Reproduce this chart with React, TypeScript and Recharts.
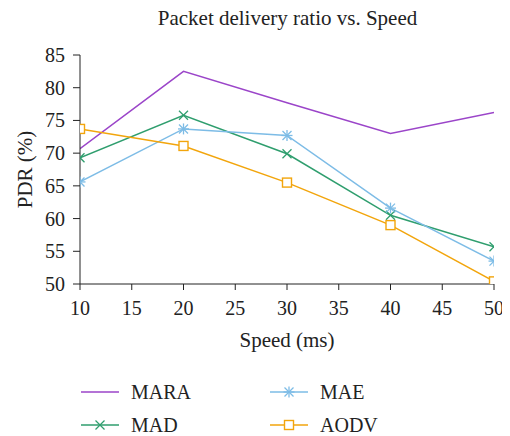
import React from "react";
import { LineChart, Line, XAxis, YAxis, Legend } from "recharts";

const speeds = [10, 20, 30, 40, 50];
const mara = [70.7, 82.5, 77.7, 73.0, 76.2];
const mad = [69.3, 75.8, 69.9, 60.5, 55.7];
const mae = [65.6, 73.7, 72.7, 61.6, 53.5];
const aodv = [73.7, 71.1, 65.5, 59.0, 50.4];
const xTicks = [10, 15, 20, 25, 30, 35, 40, 45, 50];
const yTicks = [50, 55, 60, 65, 70, 75, 80, 85];

const data = speeds.map((s, i) => ({ speed: s, MARA: mara[i], MAD: mad[i], MAE: mae[i], AODV: aodv[i] }));

const FONT = "'Liberation Serif', 'Times New Roman', serif";
const TXT = { fontFamily: FONT };
const C_MARA = "#9b45c9";
const C_MAD = "#2f9e6e";
const C_MAE = "#7dbce6";
const C_AODV = "#f2a50c";

const CrossDot = (props: any) => {
  const { cx, cy, stroke } = props;
  if (cx == null || cy == null) return null;
  const r = 4.5;
  return (
    <g stroke={stroke} strokeWidth={1.3} fill="none">
      <line x1={cx - r} y1={cy - r} x2={cx + r} y2={cy + r} />
      <line x1={cx - r} y1={cy + r} x2={cx + r} y2={cy - r} />
    </g>
  );
};

const StarDot = (props: any) => {
  const { cx, cy, stroke } = props;
  if (cx == null || cy == null) return null;
  const r = 4.5;
  return (
    <g stroke={stroke} strokeWidth={1.3} fill="none">
      <line x1={cx - r} y1={cy - r} x2={cx + r} y2={cy + r} />
      <line x1={cx - r} y1={cy + r} x2={cx + r} y2={cy - r} />
      <line x1={cx} y1={cy - r - 1} x2={cx} y2={cy + r + 1} />
      <line x1={cx - r - 1} y1={cy} x2={cx + r + 1} y2={cy} />
    </g>
  );
};

const SquareDot = (props: any) => {
  const { cx, cy, stroke } = props;
  if (cx == null || cy == null) return null;
  const r = 4.5;
  return <rect x={cx - r} y={cy - r} width={2 * r} height={2 * r} stroke={stroke} strokeWidth={1.4} fill="#fff" />;
};

const XTick = (props: any) => {
  const { x, y, payload } = props;
  return (
    <text x={x} y={y} dy="0.75em" textAnchor="middle" style={TXT} fontSize={20} fill="#222">
      {payload.value}
    </text>
  );
};

const YTick = (props: any) => {
  const { x, y, payload } = props;
  return (
    <text x={x} y={y} dy="0.35em" textAnchor="end" style={TXT} fontSize={20} fill="#222">
      {payload.value}
    </text>
  );
};

const legendItems = [
  { name: "MARA", color: C_MARA, marker: null as any },
  { name: "MAE", color: C_MAE, marker: StarDot },
  { name: "MAD", color: C_MAD, marker: CrossDot },
  { name: "AODV", color: C_AODV, marker: SquareDot },
];

const renderLegend = () => (
  <svg width={400} height={70} style={{ display: "block", fontFamily: FONT }}>
    {legendItems.map((it, i) => {
      const col = i % 2;
      const row = Math.floor(i / 2);
      const x0 = col * 189;
      const y0 = 26 + row * 33;
      const M = it.marker;
      return (
        <g key={it.name}>
          <line x1={x0} y1={y0} x2={x0 + 38} y2={y0} stroke={it.color} strokeWidth={1.5} />
          {M ? <M cx={x0 + 19} cy={y0} stroke={it.color} /> : null}
          <text x={x0 + 50} y={y0} dy="0.35em" style={TXT} fontSize={20} fill="#222">
            {it.name}
          </text>
        </g>
      );
    })}
  </svg>
);

export default function App() {
  return (
    <div style={{ position: "relative", width: 502, height: 428, fontFamily: FONT }}>
      <style>{"html,body{overflow:hidden;}"}</style>
      <div
        style={{
          position: "absolute",
          left: 0,
          width: 502,
          top: 0,
          textAlign: "center",
          fontFamily: FONT,
          fontSize: 21,
          color: "#222",
          lineHeight: "21px",
          paddingLeft: 57,
          boxSizing: "border-box",
        }}
      >
        Packet delivery ratio vs. Speed
      </div>
      <LineChart
        width={502}
        height={428}
        data={data}
        margin={{ top: 47, right: 16, bottom: 0, left: 0 }}
        style={{ fontFamily: FONT, overflow: "visible" }}
      >
        <XAxis
          dataKey="speed"
          type="number"
          domain={[10, 50]}
          ticks={xTicks}
          allowDataOverflow
          stroke="#222"
          tickSize={6}
          tickMargin={10}
          tick={<XTick />}
          height={82}
          label={{ value: "Speed (ms)", position: "insideBottom", offset: 19, fill: "#222", fontSize: 21, fontFamily: FONT }}
        />
        <XAxis xAxisId="top" orientation="top" dataKey="speed" type="number" domain={[10, 50]} tick={false} tickLine={false} stroke="#222" height={0} />
        <YAxis
          type="number"
          domain={[50, 85]}
          ticks={yTicks}
          allowDataOverflow
          stroke="#222"
          tickSize={7}
          tickMargin={8}
          width={72}
          tick={<YTick />}
          label={{ value: "PDR (%)", angle: -90, position: "insideLeft", offset: 17, fill: "#222", fontSize: 21, fontFamily: FONT, style: { textAnchor: "middle" } }}
        />
        <YAxis yAxisId="right" orientation="right" type="number" domain={[50, 85]} tick={false} tickLine={false} stroke="#222" width={0} />
        <Legend
          verticalAlign="bottom"
          content={renderLegend}
          wrapperStyle={{ left: 73, bottom: 0, width: 400, height: 70 }}
        />
        <Line dataKey="MARA" stroke={C_MARA} strokeWidth={1.5} dot={false} isAnimationActive={false} />
        <Line dataKey="MAD" stroke={C_MAD} strokeWidth={1.5} dot={<CrossDot />} isAnimationActive={false} />
        <Line dataKey="MAE" stroke={C_MAE} strokeWidth={1.5} dot={<StarDot />} isAnimationActive={false} />
        <Line dataKey="AODV" stroke={C_AODV} strokeWidth={1.5} dot={<SquareDot />} isAnimationActive={false} />
      </LineChart>
    </div>
  );
}
